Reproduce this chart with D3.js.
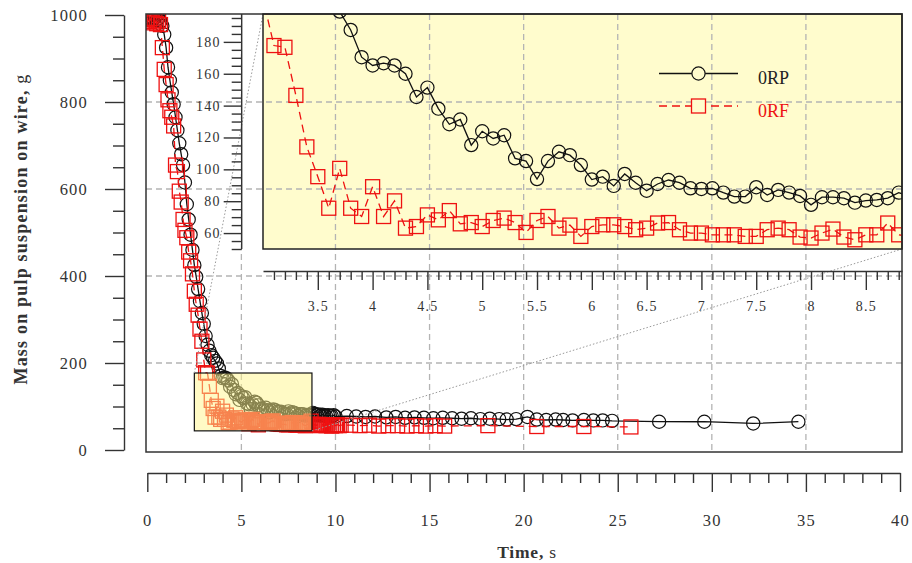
<!DOCTYPE html>
<html><head><meta charset="utf-8">
<script src="https://cdn.jsdelivr.net/npm/d3@7"></script>
<style>
body{margin:0;background:#fff}
svg{display:block}
text{font-family:"Liberation Serif","Times New Roman",serif;fill:#333}
</style>
</head><body>
<svg id="c" width="912" height="563"></svg>
<script>
// ---------------- data ----------------
const rpTime = [0.0,0.1,0.2,0.3,0.4,0.5,0.6,0.7,0.8,0.9,1.0,1.1,1.2,1.3,1.4,1.5,1.6,1.7,1.8,1.9,
  2.0,2.1,2.2,2.3,2.4,2.5,2.6,2.7,2.8,2.9,3.0,3.1,3.2,3.3,3.4,3.5,3.6,3.7,3.8,3.9,
  4.0,4.1,4.2,4.3,4.4,4.5,4.6,4.7,4.8,4.9,5.0,5.1,5.2,5.3,5.4,5.5,5.6,5.7,5.8,5.9,
  6.0,6.1,6.2,6.3,6.4,6.5,6.6,6.7,6.8,6.9,7.0,7.1,7.2,7.3,7.4,7.5,7.6,7.7,7.8,7.9,
  8.0,8.1,8.2,8.3,8.4,8.5,8.6,8.7,8.8,8.9,9.0,9.1,9.2,9.3,9.4,9.5,9.6,9.7,9.8,9.9,10.0,
  10.6,11.1,11.6,12.1,12.7,13.2,13.7,14.2,14.7,15.2,15.7,16.2,16.7,17.2,17.7,18.2,18.7,
  19.1,19.6,20.2,20.7,21.2,21.7,22.1,22.6,23.2,23.7,24.2,24.7,27.2,29.6,32.2,34.6];
const rpMass = [995,992,996,990,994,988,992,985,975,955,925,880,850,822,795,765,735,705,680,655,
  615,565,530,495,460,425,398,370,342,315,290,262,242,228,218,212,205,199,187.5,170.4,
  165.2,166.6,165.2,160,145.4,151.3,138.1,128.3,131.3,115.2,123.9,119.4,121.4,106.9,105.2,93.9,105.2,111,108.9,102.7,
  93.6,95.4,89.6,97.1,91.6,86.6,90.8,93.3,91.6,88.1,87.7,88.1,85.4,82.9,82.9,88.8,83.9,87.1,85.4,83.3,
  77.7,82.5,82.5,81.9,79.1,80.4,80.8,81.9,85.4,83,80,82,79,81,80,78,80,79,78,80,77,
  78,77,76,77,75,76,74,75,74,73,74,73,72,73,71,72,71,
  70,71,76,70,69,70,69,68,69,68,68,67,65,65,61,65];

const rfTime = [0.0,0.1,0.2,0.3,0.4,0.5,0.6,0.7,0.8,0.9,1.0,1.1,1.2,1.3,1.4,1.5,1.6,1.7,1.8,1.9,
  2.0,2.1,2.2,2.3,2.4,2.5,2.6,2.7,2.8,2.9,3.0,3.1,3.2,3.3,3.4,3.5,3.6,3.7,3.8,3.9,
  4.0,4.1,4.2,4.3,4.4,4.5,4.6,4.7,4.8,4.9,5.0,5.1,5.2,5.3,5.4,5.5,5.6,5.7,5.8,5.9,
  6.0,6.1,6.2,6.3,6.4,6.5,6.6,6.7,6.8,6.9,7.0,7.1,7.2,7.3,7.4,7.5,7.6,7.7,7.8,7.9,
  8.0,8.1,8.2,8.3,8.4,8.5,8.6,8.7,8.8,8.9,9.0,9.1,9.2,9.3,9.4,9.5,9.6,9.7,9.8,9.9,
  10.0,10.1,10.2,10.3,10.8,11.3,11.8,12.3,12.8,13.3,13.8,14.3,14.8,15.3,15.8,18.1,20.7,23.2,25.7];
const rfMass = [990,985,992,982,988,980,986,978,925,875,840,805,780,765,745,655,640,595,570,530,
  505,488,455,435,405,365,335,310,278,250,207,177.7,176.6,146.4,114.1,95.4,75.6,100.6,75.6,70.4,
  89.1,70.4,80.2,63.1,64.1,71.4,68.3,74.1,65.8,66.6,64.1,67.9,69.4,66.6,60.4,67.9,70.4,63.1,65.0,57.9,
  64.1,65.2,65.2,64.1,62.1,63.1,66.3,66.6,62.1,60,60,58.9,58.9,58.9,57.9,57.9,62.1,63.1,62.1,57.5,
  56.9,60,62.5,57.5,55.8,58.9,58.9,66.3,58.9,58,57,59,56,58,57,56,58,57,55,
  57,56,58,56,57,57,56,57,55,56,56,55,56,55,56,55,56,54,54,53];

const seriesNames = ["0RP", "0RF"];
const mainXTicks = [0,5,10,15,20,25,30,35,40];
const mainYTicks = [0,200,400,600,800,1000];
const gridX = [5,10,15,20,25,30,35];
const gridY = [200,400,600,800];
const insetXTicks = [3.5,4,4.5,5,5.5,6,6.5,7,7.5,8,8.5];
const insetYTicks = [60,80,100,120,140,160,180];
const zoomBox = [2.5, 8.75, 44, 177]; // t0, t1, m0, m1
const axisTitleX = ["Time,", " s"];
const axisTitleY = ["Mass on pulp suspension on wire,", " g"];

// ---------------- layout ----------------
const svg = d3.select("#c");
const F = {l:146, t:14, r:902, b:452};
const x = d3.scaleLinear().domain([0,40]).range([147.3,900]);
const y = d3.scaleLinear().domain([0,1000]).range([450,15]);
const ix = d3.scaleLinear().domain([3.0,8.83]).range([263,902]);
const iy = d3.scaleLinear().domain([50,197.5]).range([249,14]);
const I = {l:263, t:14, r:902, b:249};

const BLACK = "#111", RED = "#ee1111", AX = "#333", GRID = "#b4b4b4";

const defs = svg.append("defs");
defs.append("clipPath").attr("id","mclip").append("rect")
  .attr("x",F.l).attr("y",F.t).attr("width",F.r-F.l).attr("height",F.b-F.t);
defs.append("clipPath").attr("id","iclip").append("rect")
  .attr("x",I.l).attr("y",I.t).attr("width",I.r-I.l).attr("height",I.b-I.t);

// inset background
svg.append("rect").attr("x",I.l).attr("y",I.t).attr("width",I.r-I.l).attr("height",I.b-I.t)
  .attr("fill","#fffccd");

// grid
const grid = svg.append("g").attr("stroke",GRID).attr("stroke-width",1.3).attr("stroke-dasharray","6,4");
grid.selectAll(".gx").data(gridX).join("line")
  .attr("x1",d=>x(d)).attr("x2",d=>x(d)).attr("y1",F.t).attr("y2",F.b);
grid.selectAll(".gy").data(gridY).join("line")
  .attr("x1",F.l).attr("x2",F.r).attr("y1",d=>y(d)).attr("y2",d=>y(d));

const series = [
  {name:seriesNames[0], time:rpTime, mass:rpMass, color:BLACK, dash:null, shape:"circle"},
  {name:seriesNames[1], time:rfTime, mass:rfMass, color:RED, dash:"8,5", shape:"square"}
];

function drawSeries(g, sx, sy, s){
  const pts = s.time.map((t,i)=>[t, s.mass[i]]);
  g.append("path").datum(pts)
    .attr("fill","none").attr("stroke",s.color).attr("stroke-width",1.3)
    .attr("stroke-dasharray",s.dash)
    .attr("d", d3.line().x(d=>sx(d[0])).y(d=>sy(d[1])));
  if(s.shape==="circle"){
    g.selectAll(null).data(pts).join("circle")
      .attr("cx",d=>sx(d[0])).attr("cy",d=>sy(d[1])).attr("r",6.6)
      .attr("fill","none").attr("stroke",s.color).attr("stroke-width",1.2);
  } else {
    g.selectAll(null).data(pts).join("rect")
      .attr("x",d=>sx(d[0])-7).attr("y",d=>sy(d[1])-7).attr("width",14).attr("height",14)
      .attr("fill","none").attr("stroke",s.color).attr("stroke-width",1.3);
  }
}

// main data
const mg = svg.append("g").attr("clip-path","url(#mclip)");
series.forEach(s=>drawSeries(mg, x, y, s));

// zoom box overlay
svg.append("rect")
  .attr("x",x(zoomBox[0])).attr("y",y(zoomBox[3]))
  .attr("width",x(zoomBox[1])-x(zoomBox[0])).attr("height",y(zoomBox[2])-y(zoomBox[3]))
  .attr("fill","#fff58c").attr("fill-opacity",0.5)
  .attr("stroke","#111").attr("stroke-width",1.2);

// connectors
const conn = svg.append("g").attr("stroke","#999").attr("stroke-width",1).attr("stroke-dasharray","1.5,2").attr("fill","none");
conn.append("line").attr("x1",x(zoomBox[0])).attr("y1",y(zoomBox[3])).attr("x2",I.l).attr("y2",I.t);
conn.append("line").attr("x1",x(zoomBox[1])).attr("y1",y(zoomBox[2])).attr("x2",I.r).attr("y2",I.b);

// main frame
svg.append("rect").attr("x",F.l).attr("y",F.t).attr("width",F.r-F.l).attr("height",F.b-F.t)
  .attr("fill","none").attr("stroke",AX).attr("stroke-width",1.5);

// inset data
const ig = svg.append("g").attr("clip-path","url(#iclip)");
series.forEach(s=>drawSeries(ig, ix, iy, s));

// inset frame
svg.append("rect").attr("x",I.l).attr("y",I.t).attr("width",I.r-I.l).attr("height",I.b-I.t)
  .attr("fill","none").attr("stroke","#222").attr("stroke-width",1.5);

function styleAxis(g, fs, ls){
  g.selectAll("path,line").attr("stroke",AX).attr("stroke-width",1.4);
  g.selectAll("text").attr("fill","#333").style("font-size",fs+"px")
    .style("letter-spacing",ls+"px").attr("font-family",null);
}
const fmt = d3.format("d");

// inset axes
const insetYMinor = d3.range(50,200,5).filter(d=>d%20!==0);
const iyMin = svg.append("g").attr("transform","translate(241.7,0)")
  .call(d3.axisLeft(iy).tickValues(insetYMinor).tickSize(10).tickSizeOuter(0).tickFormat(""));
iyMin.select(".domain").remove();
const iyAx = svg.append("g").attr("transform","translate(241.7,0)")
  .call(d3.axisLeft(iy).tickValues(insetYTicks).tickSize(18).tickSizeOuter(0).tickPadding(3).tickFormat(fmt));
iyAx.select(".domain").attr("d",`M0,${I.t}V${I.b}`);
styleAxis(iyMin,14,1.2); styleAxis(iyAx,14,1.2);

const insetXMinor = d3.range(31,89).filter(i=>i%5!==0).map(i=>i/10);
const ixMin = svg.append("g").attr("transform","translate(0,271)")
  .call(d3.axisBottom(ix).tickValues(insetXMinor).tickSize(9).tickSizeOuter(0).tickFormat(""));
ixMin.select(".domain").remove();
const ixAx = svg.append("g").attr("transform","translate(0,271)")
  .call(d3.axisBottom(ix).tickValues(insetXTicks).tickSize(19).tickSizeOuter(0).tickPadding(11).tickFormat(d=>String(d)));
styleAxis(ixMin,14,1.2); styleAxis(ixAx,14,1.2);

// legend
const lg = svg.append("g");
const legY = [73.5, 106];
series.forEach((s,i)=>{
  const yy = legY[i];
  lg.append("line").attr("x1",659).attr("x2",738).attr("y1",yy).attr("y2",yy)
    .attr("stroke",s.color).attr("stroke-width",1.3).attr("stroke-dasharray",s.dash);
  if(s.shape==="circle"){
    lg.append("circle").attr("cx",698.5).attr("cy",yy).attr("r",6.6)
      .attr("fill","#fffccd").attr("stroke",s.color).attr("stroke-width",1.2);
  } else {
    lg.append("rect").attr("x",691.5).attr("y",yy-7).attr("width",14).attr("height",14)
      .attr("fill","#fffccd").attr("stroke",s.color).attr("stroke-width",1.3);
  }
  lg.append("text").attr("x",758).attr("y",yy+10.5).text(s.name)
    .style("font-size","18px").style("fill",i===0?"#222":RED);
});

// main axes
const mainYMinor = d3.range(50,1000,50).filter(d=>d%200!==0);
const myMin = svg.append("g").attr("transform","translate(124,0)")
  .call(d3.axisLeft(y).tickValues(mainYMinor).tickSize(11).tickSizeOuter(0).tickFormat(""));
myMin.select(".domain").remove();
const myAx = svg.append("g").attr("transform","translate(124,0)")
  .call(d3.axisLeft(y).tickValues(mainYTicks).tickSize(19).tickSizeOuter(0).tickPadding(17).tickFormat(fmt));
styleAxis(myMin,16.5,1.2); styleAxis(myAx,16.5,1.2);

const mainXMinor = d3.range(1,40).filter(d=>d%5!==0);
const mxMin = svg.append("g").attr("transform","translate(0,473)")
  .call(d3.axisBottom(x).tickValues(mainXMinor).tickSize(10).tickSizeOuter(0).tickFormat(""));
mxMin.select(".domain").remove();
const mxAx = svg.append("g").attr("transform","translate(0,473)")
  .call(d3.axisBottom(x).tickValues(mainXTicks).tickSize(19).tickSizeOuter(0).tickPadding(22).tickFormat(fmt));
styleAxis(mxMin,16.5,1.2); styleAxis(mxAx,16.5,1.2);

// axis titles
const xt = svg.append("text").attr("x",527).attr("y",558).attr("text-anchor","middle")
  .style("font-size","17.5px").style("letter-spacing","0.8px");
xt.append("tspan").attr("font-weight","bold").text(axisTitleX[0]);
xt.append("tspan").text(axisTitleX[1]);

const yt = svg.append("text").attr("transform","translate(27,229) rotate(-90)").attr("text-anchor","middle")
  .style("font-size","18px").style("letter-spacing","1.2px");
yt.append("tspan").attr("font-weight","bold").text(axisTitleY[0]);
yt.append("tspan").text(axisTitleY[1]);
</script>
</body></html>
